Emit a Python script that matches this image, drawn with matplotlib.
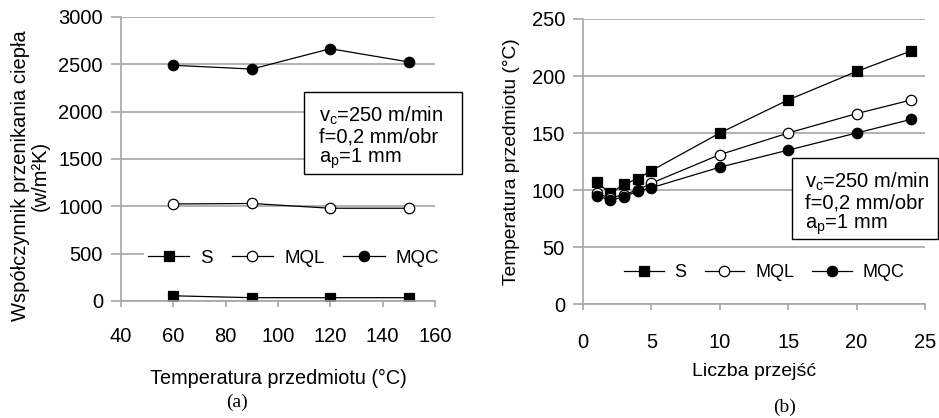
import matplotlib
matplotlib.use("Agg")
import matplotlib.pyplot as plt
from matplotlib.patches import Rectangle

plt.rcParams['font.family'] = ['Liberation Sans', 'DejaVu Sans']
plt.rcParams['mathtext.fontset'] = 'custom'
plt.rcParams['mathtext.rm'] = 'Liberation Sans'

# (a) heat transfer coefficient vs. workpiece temperature
temp_a = [60, 90, 120, 150]
h_s = [55, 35, 35, 35]
h_mql = [1025, 1030, 980, 980]
h_mqc = [2490, 2450, 2665, 2525]

# (b) workpiece temperature vs. number of passes
passes = [1, 2, 3, 4, 5, 10, 15, 20, 24]
t_s = [107, 97, 105, 110, 117, 150, 179, 204, 222]
t_mql = [97, 93, 96, 100, 106, 131, 150, 167, 179]
t_mqc = [95, 91, 94, 99, 102, 120, 135, 150, 162]

labels = ['S', 'MQL', 'MQC']
params = "v$_\\mathregular{c}$=250 m/min\nf=0,2 mm/obr\na$_\\mathregular{p}$=1 mm"

W, H = 939, 418
fig = plt.figure(figsize=(W / 100, H / 100), dpi=100)

ax1 = fig.add_axes([121 / W, 1 - 301 / H, 314 / W, 284 / H])
ax2 = fig.add_axes([583 / W, 1 - 304 / H, 342 / W, 285 / H])

grid_c = '#a6a6a6'


def style(ax, xpad):
    ax.grid(axis='y', color=grid_c, linewidth=1.2)
    ax.set_axisbelow(True)
    for s in ['top', 'right']:
        ax.spines[s].set_visible(False)
    ax.spines['left'].set_color(grid_c)
    ax.spines['bottom'].set_color(grid_c)
    ax.spines['left'].set_linewidth(1.2)
    ax.spines['bottom'].set_linewidth(1.2)
    ax.tick_params(axis='y', length=7, width=1.2, color=grid_c, labelsize=14.5, pad=6)
    ax.tick_params(axis='x', length=4, width=1.2, color=grid_c, labelsize=14.5, pad=xpad)


def series(ax, x, ys):
    mk = dict(color='black', linewidth=0.9, markersize=7.5,
              markeredgecolor='black', markeredgewidth=0.9)
    ax.plot(x, ys[0], marker='s', markerfacecolor='black', label=labels[0], **mk)
    ax.plot(x, ys[1], marker='o', markerfacecolor='white', label=labels[1], **mk)
    ax.plot(x, ys[2], marker='o', markerfacecolor='black', label=labels[2], **mk)


def legend(ax, xy, size):
    leg = ax.legend(loc='center', bbox_to_anchor=xy, ncol=3, fontsize=size,
                    handlelength=2.2, handletextpad=0.6, columnspacing=1.0,
                    frameon=True, fancybox=False, borderpad=0.2)
    leg.get_frame().set_edgecolor('none')
    leg.get_frame().set_facecolor('white')
    leg.get_frame().set_alpha(1)


series(ax1, temp_a, [h_s, h_mql, h_mqc])
style(ax1, 15)
ax1.set_xlim(40, 160)
ax1.set_ylim(0, 3000)
ax1.set_xticks(range(40, 161, 20))
ax1.set_yticks(range(0, 3001, 500))
ax1.set_xlabel('Temperatura przedmiotu (°C)', fontsize=14.3, labelpad=16)
ax1.set_ylabel('Współczynnik przenikania ciepła\n(w/m²K)', fontsize=14.5,
               linespacing=1.0)
ax1.yaxis.set_label_coords(-0.228, 0.44)
legend(ax1, (0.55, 0.15), 13.5)

series(ax2, passes, [t_s, t_mql, t_mqc])
style(ax2, 17)
ax2.set_xlim(0, 25)
ax2.set_ylim(0, 250)
ax2.set_xticks(range(0, 26, 5))
ax2.set_yticks(range(0, 251, 50))
ax2.set_xlabel('Liczba przejść', fontsize=14, labelpad=8)
ax2.set_ylabel('Temperatura przedmiotu (°C)', fontsize=13.8, labelpad=8)
legend(ax2, (0.53, 0.11), 13)

# parameter boxes
for (x0, y0, x1, y1, tx, ty) in [(304, 92, 462, 174, 319, 138),
                                  (792, 158, 938, 239, 805, 204)]:
    fig.patches.append(Rectangle((x0 / W, 1 - y1 / H), (x1 - x0) / W, (y1 - y0) / H,
                                 transform=fig.transFigure, facecolor='white',
                                 edgecolor='black', linewidth=1.0, zorder=5))
    fig.text(tx / W, 1 - ty / H, params, fontsize=14.5, va='center', ha='left',
             linespacing=1.0, zorder=6)

fig.text(237 / W, 1 - 402 / H, '(a)', family='Liberation Serif', fontsize=14,
         ha='center', va='center')
fig.text(785 / W, 1 - 407 / H, '(b)', family='Liberation Serif', fontsize=14,
         ha='center', va='center')

fig.savefig('out.png', dpi=100)
